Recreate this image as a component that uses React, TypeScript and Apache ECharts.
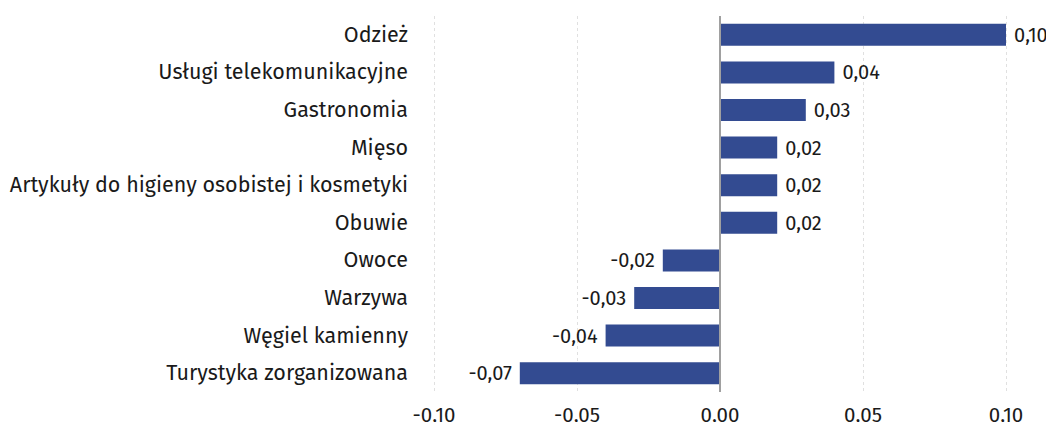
import React, { useEffect, useRef } from "react";
import * as echarts from "echarts";

const categories = [
  "Odzież",
  "Usługi telekomunikacyjne",
  "Gastronomia",
  "Mięso",
  "Artykuły do higieny osobistej i kosmetyki",
  "Obuwie",
  "Owoce",
  "Warzywa",
  "Węgiel kamienny",
  "Turystyka zorganizowana",
];
const values = [0.1, 0.04, 0.03, 0.02, 0.02, 0.02, -0.02, -0.03, -0.04, -0.07];

const FONT = "'Fira Sans', 'Noto Sans', 'Open Sans', sans-serif";
const fmt = (v: number) => v.toFixed(2).replace(".", ",");

export default function App() {
  const ref = useRef<HTMLDivElement>(null);
  useEffect(() => {
    if (!ref.current) return;
    const chart = echarts.init(ref.current, null, { renderer: "svg" });
    chart.setOption({
      animation: false,
      grid: { left: 434, right: 48, top: 16, bottom: 38, containLabel: false },
      xAxis: {
        type: "value",
        min: -0.1,
        max: 0.1,
        interval: 0.05,
        axisLine: { show: false },
        axisTick: { show: false },
        axisLabel: {
          formatter: (v: number) => fmt(v),
          fontSize: 20.5,
          color: "#1a1a1a",
          fontFamily: FONT,
          margin: 12,
        },
        splitLine: { show: true, lineStyle: { type: [3, 3], color: "#e0e0e0", width: 1 } },
      },
      yAxis: {
        type: "category",
        inverse: true,
        data: categories,
        axisLine: { show: false },
        axisTick: { show: false },
        axisLabel: {
          fontSize: 21.5,
          color: "#1a1a1a",
          fontFamily: FONT,
          margin: 26,
        },
      },
      series: [
        {
          type: "bar",
          barWidth: 22,
          data: values.map((v) => ({
            value: v,
            label: { position: v < 0 ? "left" : "right" },
          })),
          itemStyle: { color: "#334b91" },
          label: {
            show: true,
            formatter: (p: any) => fmt(p.value),
            fontSize: 20,
            color: "#1a1a1a",
            fontFamily: FONT,
            distance: 8,
          },
          markLine: {
            silent: true,
            symbol: "none",
            label: { show: false },
            lineStyle: { color: "#a0a0a0", type: "solid", width: 2 },
            data: [{ xAxis: 0 }],
          },
        },
      ],
    });
    return () => chart.dispose();
  }, []);
  return <div ref={ref} style={{ width: 1054, height: 430, margin: -8 }} />;
}
